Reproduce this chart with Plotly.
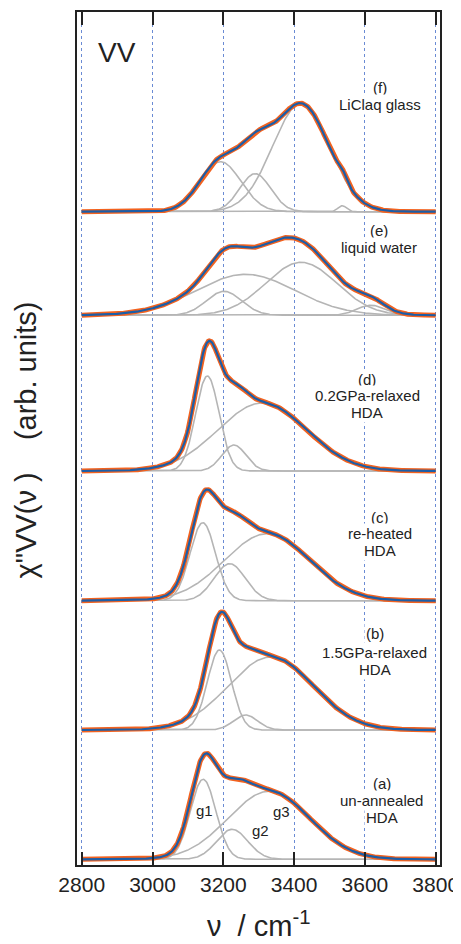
import numpy as np
import plotly.graph_objects as go

# ---------------- data ----------------
wavenumber_min = 2800
wavenumber_max = 3800
tick_values = [2800, 3000, 3200, 3400, 3600, 3800]
tick_labels = ["2800", "3000", "3200", "3400", "3600", "3800"]

panel_ids = ["a", "b", "c", "d", "e", "f"]
panel_offsets = [5.7, 135, 264.3, 394, 549.7, 653.3]

# Gaussian components (center cm^-1, height arb., sigma cm^-1)
a_centers = [3143, 3225, 3329]
a_heights = [80, 30, 68]
a_sigmas = [36, 44, 115]

b_centers = [3189, 3263, 3334]
b_heights = [80, 15, 73]
b_sigmas = [34, 34, 120]

c_centers = [3142, 3218, 3324]
c_heights = [78, 37, 67]
c_sigmas = [36, 44, 120]

d_centers = [3155, 3230, 3310]
d_heights = [95, 26, 68]
d_sigmas = [33, 34, 125]

e_centers = [3202, 3263, 3420, 3617]
e_heights = [24, 41, 53, 10]
e_sigmas = [50, 140, 100, 40]

f_centers = [3192, 3290, 3419, 3536]
f_heights = [50, 38, 108, 6]
f_sigmas = [58, 44, 80, 12]

panel_labels = {
    "a": ["(a)", "un-annealed", "HDA"],
    "b": ["(b)", "1.5GPa-relaxed", "HDA"],
    "c": ["(c)", "re-heated", "HDA"],
    "d": ["(d)", "0.2GPa-relaxed", "HDA"],
    "e": ["(e)", "liquid water"],
    "f": ["(f)", "LiClaq glass"],
}
label_x = {"a": 3648, "b": 3628, "c": 3643, "d": 3606, "e": 3640, "f": 3643}
label_y = {"a": [82, 65, 48], "b": [232, 213, 196], "c": [348, 332, 315],
           "d": [486, 470, 453], "e": [635, 618], "f": [778, 761]}

component_names = ["g1", "g2", "g3"]
component_label_x = [3148, 3304, 3363]
component_label_y = [55, 35, 54]

params = {
    "a": (a_centers, a_heights, a_sigmas),
    "b": (b_centers, b_heights, b_sigmas),
    "c": (c_centers, c_heights, c_sigmas),
    "d": (d_centers, d_heights, d_sigmas),
    "e": (e_centers, e_heights, e_sigmas),
    "f": (f_centers, f_heights, f_sigmas),
}

# ---------------- figure ----------------
GRAY = "#b5b5b5"
BLUE = "#1b5ea8"
ORANGE = "#f2621f"
TXT = "#222222"
FONT = "Liberation Sans, Arial, Helvetica, sans-serif"

x = np.arange(wavenumber_min, wavenumber_max + 1, 2)


def gauss(xx, c, h, s):
    return h * np.exp(-(xx - c) ** 2 / (2.0 * s ** 2))


fig = go.Figure()

for pid, off in zip(panel_ids, panel_offsets):
    cs, hs, ss = params[pid]
    total = np.zeros_like(x, dtype=float)
    comps = []
    for c, h, s in zip(cs, hs, ss):
        g = gauss(x, c, h, s)
        comps.append(g)
        total += g
    for g in comps:
        fig.add_trace(go.Scatter(x=x, y=g + off, mode="lines",
                                 line=dict(color=GRAY, width=1.6),
                                 hoverinfo="skip", showlegend=False))
    fig.add_trace(go.Scatter(x=x, y=total + off, mode="lines",
                             line=dict(color=ORANGE, width=5),
                             hoverinfo="skip", showlegend=False))
    fig.add_trace(go.Scatter(x=x, y=total + off, mode="lines",
                             line=dict(color=BLUE, width=2.2),
                             hoverinfo="skip", showlegend=False))

annotations = []
for pid in panel_ids:
    for txt, yy in zip(panel_labels[pid], label_y[pid]):
        annotations.append(dict(x=label_x[pid], y=yy, xref="x", yref="y",
                                text=txt, showarrow=False,
                                font=dict(family=FONT, size=15, color=TXT),
                                bgcolor="white", borderpad=1,
                                xanchor="center", yanchor="middle"))
for txt, xx, yy in zip(component_names, component_label_x, component_label_y):
    annotations.append(dict(x=xx, y=yy, xref="x", yref="y", text=txt,
                            showarrow=False,
                            font=dict(family=FONT, size=15, color=TXT),
                            xanchor="center", yanchor="middle"))
annotations.append(dict(x=2900, y=813, xref="x", yref="y", text="VV",
                        showarrow=False,
                        font=dict(family=FONT, size=28, color=TXT),
                        xanchor="center", yanchor="middle"))
annotations.append(dict(x=-0.14, y=0.498, xref="paper", yref="paper",
                        text="χ\"VV(ν )    (arb. units)", textangle=-90,
                        showarrow=False,
                        font=dict(family=FONT, size=29, color=TXT),
                        xanchor="center", yanchor="middle"))
annotations.append(dict(x=0.5, y=-0.069, xref="paper", yref="paper",
                        text="ν  / cm<sup>-1</sup>",
                        showarrow=False,
                        font=dict(family=FONT, size=29, color=TXT),
                        xanchor="center", yanchor="middle"))

# the page body keeps an 8px margin, so the figure is made 8px smaller
fig.update_layout(
    width=453, height=936,
    margin=dict(l=69, r=21, t=4, b=79, autoexpand=False),
    paper_bgcolor="white", plot_bgcolor="white",
    showlegend=False,
    annotations=annotations,
    xaxis=dict(range=[2786.7, 3812.1], tickvals=tick_values, ticktext=tick_labels,
               ticks="inside", ticklen=13, tickwidth=2, tickcolor=TXT,
               showline=True, linecolor=TXT, linewidth=2, mirror="ticks",
               showgrid=True, gridcolor="#6a8bd4", griddash="dot", gridwidth=1,
               zeroline=False, automargin=False,
               tickfont=dict(family=FONT, size=21, color=TXT)),
    yaxis=dict(range=[0, 853], showticklabels=False, ticks="",
               showline=True, linecolor=TXT, linewidth=2, mirror=True,
               showgrid=False, zeroline=False, automargin=False),
)

fig.write_html("out.html")
